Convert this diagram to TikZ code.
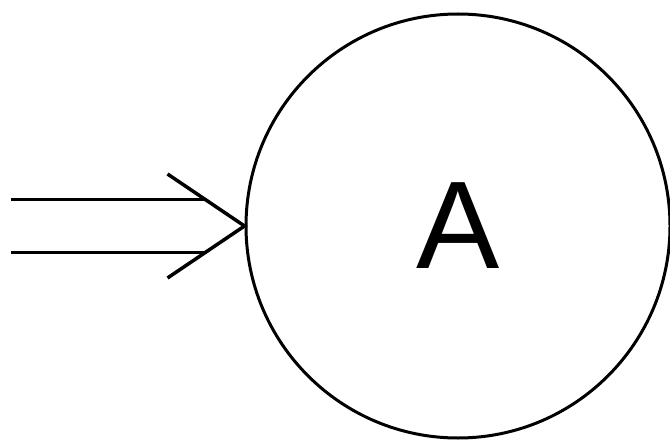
\documentclass[tikz,border=0pt]{standalone}
\usepackage{fontspec}
\setmainfont{Liberation Sans}
\usepackage{tikz}
\usetikzlibrary{positioning}
\tikzstyle{statebox} = [circle, draw, line width=0.06cm, minimum size=8.48cm,
  inner sep=0pt, font=\fontsize{71}{80}\selectfont]
\tikzstyle{dblarw} = [double, double distance=0.99cm, line width=0.07cm, shorten >=0.78cm]
\tikzstyle{veetip} = [line width=0.07cm, line join=miter]

\begin{document}
\begin{tikzpicture}
  \useasboundingbox (0,0) rectangle (13.4,8.8);
  % State
  \node[statebox] (A) at (9.16,4.28) {A};

  % Incoming double arrow
  \coordinate (src) at (0.22,4.28);
  \draw[dblarw] (src) -- (A.west);
  \draw[veetip] (A.west) ++(-1.54,1.04) -- (A.west) -- ++(-1.54,-1.04);
\end{tikzpicture}
\end{document}
